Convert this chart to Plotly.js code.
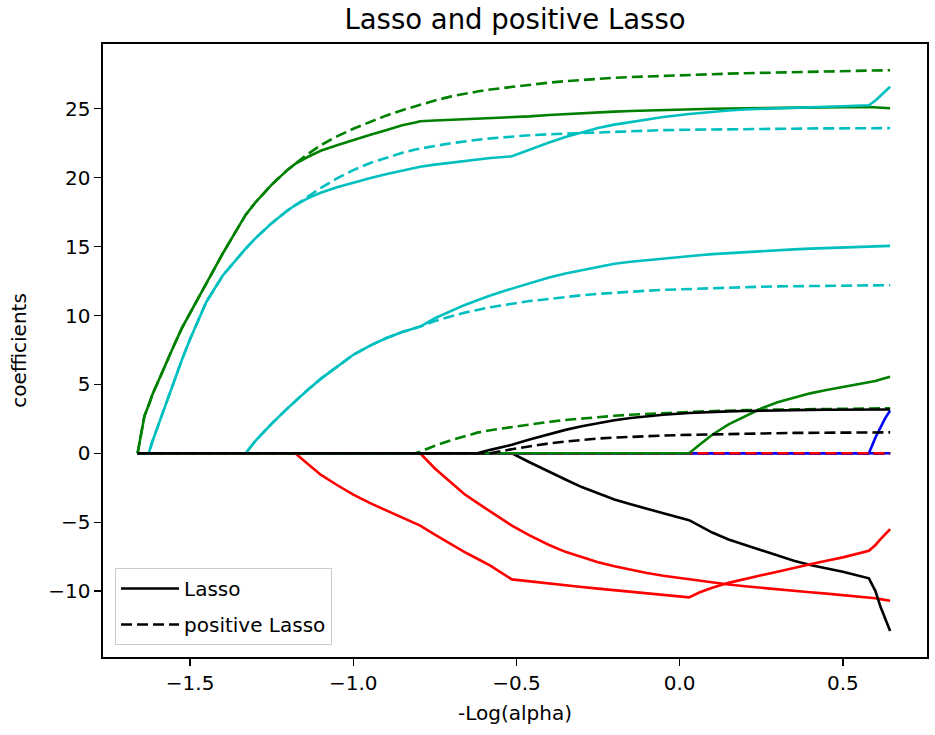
<!DOCTYPE html>
<html>
<head>
<meta charset="utf-8">
<script src="https://cdn.plot.ly/plotly-3.0.1.min.js"></script>
<style>
html, body { margin: 0; padding: 0; background: #ffffff; }
#chart { width: 935px; height: 735px; }
</style>
</head>
<body>
<div id="chart"></div>
<script>
// -log10(alpha) sample positions
const negLogAlpha = [-1.661, -1.65, -1.64, -1.627, -1.615, -1.6, -1.575, -1.55, -1.525, -1.5,
  -1.45, -1.4, -1.365, -1.33, -1.3, -1.25, -1.2, -1.178, -1.14, -1.1,
  -1.05, -1.0, -0.95, -0.9, -0.85, -0.81, -0.795, -0.75, -0.7, -0.66,
  -0.62, -0.58, -0.514, -0.46, -0.4, -0.35, -0.3, -0.25, -0.2, -0.15,
  -0.1, -0.05, 0.029, 0.06, 0.1, 0.15, 0.2, 0.25, 0.3, 0.35,
  0.4, 0.45, 0.5, 0.58, 0.6, 0.615, 0.63, 0.645];

const featureNames = ['age', 'sex', 'bmi', 'bp', 's1', 's2', 's3', 's4', 's5', 's6'];
const featureColors = ['#0000ff', '#ff0000', '#008000', '#00bfbf', '#000000', '#0000ff', '#ff0000', '#008000', '#00bfbf', '#000000'];

// Lasso coefficients (solid)
const lassoAge = [0,0,0,0,0,0,0,0,0,0, 0,0,0,0,0,0,0,0,0,0, 0,0,0,0,0,0,0,0,0,0, 0,0,0,0,0,0,0,0,0,0, 0,0,0,0,0,0,0,0,0,0, 0,0,0,0,0,0,0,0];
const lassoSex = [0,0,0,0,0,0,0,0,0,0, 0,0,0,0,0,0,0,0,0,0, 0,0,0,0,0,0,0,-1.1,-2.15,-2.95,
  -3.6,-4.2,-5.25,-5.95,-6.65,-7.15,-7.55,-7.9,-8.2,-8.45, -8.68,-8.88,-9.15,-9.25,-9.38,-9.52,-9.65,-9.77,-9.88,-9.98,
  -10.08,-10.18,-10.28,-10.45,-10.52,-10.58,-10.64,-10.7];
const lassoBmi = [0,1.4,2.7,3.5,4.3,5.1,6.5,7.8,9.1,10.2, 12.4,14.5,15.9,17.3,18.2,19.5,20.6,21.0,21.5,21.95,
  22.35,22.75,23.1,23.45,23.8,24.0,24.1,24.15,24.2,24.23, 24.26,24.3,24.35,24.45,24.55,24.62,24.68,24.74,24.79,24.84,
  24.88,24.91,24.95,24.97,25.0,25.02,25.04,25.06,25.08,25.09, 25.1,25.11,25.12,25.13,25.11,25.08,25.06,25.04];
const lassoBp = [0,0,0,0,0,0,0,0,0,0, 0,0,0,0,0.9,2.15,3.3,3.8,4.6,5.4,
  6.3,7.15,7.8,8.35,8.8,9.1,9.2,9.8,10.35,10.75, 11.1,11.45,11.95,12.35,12.75,13.05,13.3,13.55,13.75,13.9,
  14.02,14.15,14.3,14.37,14.45,14.53,14.6,14.68,14.75,14.8, 14.85,14.9,14.94,15.0,15.01,15.03,15.04,15.05];
const lassoS1 = [0,0,0,0,0,0,0,0,0,0, 0,0,0,0,0,0,0,0,0,0, 0,0,0,0,0,0,0,0,0,0,
  0,0,0,-0.65,-1.3,-1.9,-2.45,-2.9,-3.35,-3.7, -4.05,-4.35,-4.85,-5.25,-5.75,-6.25,-6.65,-7.05,-7.45,-7.8,
  -8.1,-8.35,-8.6,-9.07,-10.0,-11.1,-12.0,-12.9];
const lassoS2 = [0,0,0,0,0,0,0,0,0,0, 0,0,0,0,0,0,0,0,0,0, 0,0,0,0,0,0,0,0,0,0, 0,0,0,0,0,0,0,0,0,0, 0,0,0,0,0,0,0,0,0,0, 0,0,0,0,1.15,1.9,2.55,3.1];
const lassoS3 = [0,0,0,0,0,0,0,0,0,0, 0,0,0,0,0,0,0,0,-0.75,-1.55,
  -2.3,-3.0,-3.6,-4.15,-4.65,-5.1,-5.25,-5.9,-6.6,-7.15, -7.65,-8.15,-9.15,-9.3,-9.45,-9.58,-9.7,-9.82,-9.93,-10.05,
  -10.15,-10.25,-10.45,-10.1,-9.75,-9.4,-9.1,-8.85,-8.6,-8.3, -8.05,-7.8,-7.55,-7.07,-6.65,-6.25,-5.9,-5.5];
const lassoS4 = [0,0,0,0,0,0,0,0,0,0, 0,0,0,0,0,0,0,0,0,0, 0,0,0,0,0,0,0,0,0,0, 0,0,0,0,0,0,0,0,0,0,
  0,0,0,0.6,1.35,2.1,2.7,3.25,3.7,4.05, 4.35,4.6,4.8,5.15,5.25,5.35,5.45,5.55];
const lassoS5 = [0,0,0,0,0.9,1.9,3.6,5.2,6.8,8.3, 11.0,12.9,13.9,14.85,15.6,16.7,17.65,18.0,18.5,18.9,
  19.3,19.65,19.95,20.25,20.5,20.7,20.8,20.95,21.1,21.22, 21.33,21.43,21.55,22.05,22.55,22.95,23.3,23.6,23.85,24.05,
  24.25,24.4,24.62,24.7,24.8,24.88,24.95,25.0,25.05,25.09, 25.12,25.15,25.18,25.25,25.6,25.95,26.3,26.6];
const lassoS6 = [0,0,0,0,0,0,0,0,0,0, 0,0,0,0,0,0,0,0,0,0, 0,0,0,0,0,0,0,0,0,0,
  0,0.25,0.62,1.0,1.4,1.7,1.97,2.2,2.4,2.56, 2.7,2.8,2.92,2.96,3.0,3.04,3.07,3.1,3.12,3.14,
  3.15,3.16,3.17,3.18,3.18,3.18,3.18,3.18];

// Positive Lasso coefficients (dashed)
const posAge = [0,0,0,0,0,0,0,0,0,0, 0,0,0,0,0,0,0,0,0,0, 0,0,0,0,0,0,0,0,0,0, 0,0,0,0,0,0,0,0,0,0, 0,0,0,0,0,0,0,0,0,0, 0,0,0,0,0,0,0,0];
const posSex = [0,0,0,0,0,0,0,0,0,0, 0,0,0,0,0,0,0,0,0,0, 0,0,0,0,0,0,0,0,0,0, 0,0,0,0,0,0,0,0,0,0, 0,0,0,0,0,0,0,0,0,0, 0,0,0,0,0,0,0,0];
const posBmi = [0,1.4,2.7,3.5,4.3,5.1,6.5,7.8,9.1,10.2, 12.4,14.5,15.9,17.3,18.2,19.5,20.6,21.0,21.7,22.35,
  23.0,23.55,24.05,24.5,24.9,25.2,25.3,25.6,25.9,26.1, 26.25,26.4,26.6,26.75,26.9,27.0,27.1,27.18,27.25,27.3,
  27.35,27.4,27.45,27.48,27.5,27.55,27.58,27.61,27.64,27.67, 27.69,27.72,27.74,27.78,27.78,27.79,27.8,27.8];
const posBp = [0,0,0,0,0,0,0,0,0,0, 0,0,0,0,0.9,2.15,3.3,3.8,4.6,5.4,
  6.3,7.15,7.8,8.35,8.8,9.1,9.2,9.6,9.95,10.2, 10.4,10.6,10.85,11.05,11.2,11.35,11.47,11.57,11.66,11.74,
  11.8,11.86,11.93,11.96,12.0,12.03,12.06,12.09,12.11,12.13, 12.15,12.17,12.18,12.2,12.2,12.2,12.2,12.2];
const posS1 = [0,0,0,0,0,0,0,0,0,0, 0,0,0,0,0,0,0,0,0,0, 0,0,0,0,0,0,0,0,0,0, 0,0,0,0,0,0,0,0,0,0, 0,0,0,0,0,0,0,0,0,0, 0,0,0,0,0,0,0,0];
const posS2 = [0,0,0,0,0,0,0,0,0,0, 0,0,0,0,0,0,0,0,0,0, 0,0,0,0,0,0,0,0,0,0, 0,0,0,0,0,0,0,0,0,0, 0,0,0,0,0,0,0,0,0,0, 0,0,0,0,0,0,0,0];
const posS3 = [0,0,0,0,0,0,0,0,0,0, 0,0,0,0,0,0,0,0,0,0, 0,0,0,0,0,0,0,0,0,0, 0,0,0,0,0,0,0,0,0,0, 0,0,0,0,0,0,0,0,0,0, 0,0,0,0,0,0,0,0];
const posS4 = [0,0,0,0,0,0,0,0,0,0, 0,0,0,0,0,0,0,0,0,0, 0,0,0,0,0,0,0.12,0.55,0.95,1.25,
  1.5,1.68,1.92,2.1,2.28,2.42,2.53,2.63,2.72,2.8, 2.87,2.93,3.0,3.03,3.07,3.1,3.13,3.16,3.18,3.2,
  3.22,3.24,3.25,3.26,3.27,3.27,3.27,3.27];
const posS5 = [0,0,0,0,0.9,1.9,3.6,5.2,6.8,8.3, 11.0,12.9,13.9,14.85,15.6,16.7,17.65,18.0,18.65,19.25,
  19.95,20.55,21.05,21.45,21.8,22.05,22.1,22.3,22.5,22.65, 22.75,22.85,23.0,23.08,23.15,23.2,23.25,23.3,23.35,23.38,
  23.42,23.45,23.48,23.49,23.5,23.52,23.53,23.54,23.55,23.56, 23.57,23.58,23.58,23.6,23.6,23.6,23.6,23.6];
const posS6 = [0,0,0,0,0,0,0,0,0,0, 0,0,0,0,0,0,0,0,0,0, 0,0,0,0,0,0,0,0,0,0,
  0,0,0.3,0.52,0.72,0.86,0.98,1.07,1.14,1.2, 1.25,1.29,1.34,1.36,1.38,1.41,1.43,1.45,1.46,1.48,
  1.49,1.5,1.51,1.52,1.52,1.52,1.52,1.52];

const lassoCoefs = [lassoAge, lassoSex, lassoBmi, lassoBp, lassoS1, lassoS2, lassoS3, lassoS4, lassoS5, lassoS6];
const positiveCoefs = [posAge, posSex, posBmi, posBp, posS1, posS2, posS3, posS4, posS5, posS6];

const xTickVals = [-1.5, -1.0, -0.5, 0.0, 0.5];
const xTickText = ['\u22121.5', '\u22121.0', '\u22120.5', '0.0', '0.5'];
const yTickVals = [-10, -5, 0, 5, 10, 15, 20, 25];
const yTickText = ['\u221210', '\u22125', '0', '5', '10', '15', '20', '25'];

const legendNames = ['Lasso', 'positive Lasso'];

const LW = 2.6;
const DASH = '11px,5px';

const traces = [];
for (let i = 0; i < featureNames.length; i++) {
  traces.push({
    type: 'scatter', mode: 'lines', x: negLogAlpha, y: lassoCoefs[i],
    name: featureNames[i] + ' Lasso', showlegend: false, hoverinfo: 'skip',
    line: { color: featureColors[i], width: LW, dash: 'solid' }
  });
  traces.push({
    type: 'scatter', mode: 'lines', x: negLogAlpha, y: positiveCoefs[i],
    name: featureNames[i] + ' positive Lasso', showlegend: false, hoverinfo: 'skip',
    line: { color: featureColors[i], width: LW, dash: DASH }
  });
}
traces.push({ type: 'scatter', mode: 'lines', x: [null], y: [null], name: legendNames[0],
  legendgroup: 'g1', line: { color: '#000000', width: LW, dash: 'solid' } });
traces.push({ type: 'scatter', mode: 'lines', x: [null], y: [null], name: legendNames[1],
  legendgroup: 'g2', line: { color: '#000000', width: LW, dash: DASH } });

const axisCommon = {
  showgrid: false, zeroline: false, showline: true, mirror: true,
  linecolor: '#000000', linewidth: 1.6,
  ticks: 'outside', ticklen: 7, tickwidth: 1.4, tickcolor: '#000000',
  tickfont: { family: 'DejaVu Sans', size: 20, color: '#000000' }
};

const layout = {
  width: 935, height: 735,
  margin: { l: 103, r: 8, t: 44, b: 78, pad: 0 },
  paper_bgcolor: '#ffffff', plot_bgcolor: '#ffffff',
  font: { family: 'DejaVu Sans', size: 20, color: '#000000' },
  title: {
    text: 'Lasso and positive Lasso',
    font: { family: 'DejaVu Sans', size: 27.5, color: '#000000' },
    xref: 'paper', x: 0.5, xanchor: 'center',
    yref: 'container', y: 1 - 19 / 735, yanchor: 'middle'
  },
  xaxis: Object.assign({}, axisCommon, {
    range: [-1.767, 0.758],
    tickmode: 'array', tickvals: xTickVals, ticktext: xTickText,
    title: { text: '-Log(alpha)', font: { family: 'DejaVu Sans', size: 20, color: '#000000' }, standoff: 12 }
  }),
  yaxis: Object.assign({}, axisCommon, {
    range: [-14.78, 29.70],
    tickmode: 'array', tickvals: yTickVals, ticktext: yTickText,
    title: { text: 'coefficients', font: { family: 'DejaVu Sans', size: 20, color: '#000000' }, standoff: 16 }
  }),
  showlegend: true,
  legend: {
    x: 0.0146, y: 0.0196, xanchor: 'left', yanchor: 'bottom',
    bgcolor: 'rgba(255,255,255,0.8)', bordercolor: '#cccccc', borderwidth: 1,
    font: { family: 'DejaVu Sans', size: 20, color: '#000000' },
    tracegroupgap: 7, itemwidth: 58
  }
};

Plotly.newPlot('chart', traces, layout, { displayModeBar: false, staticPlot: true });
</script>
</body>
</html>
